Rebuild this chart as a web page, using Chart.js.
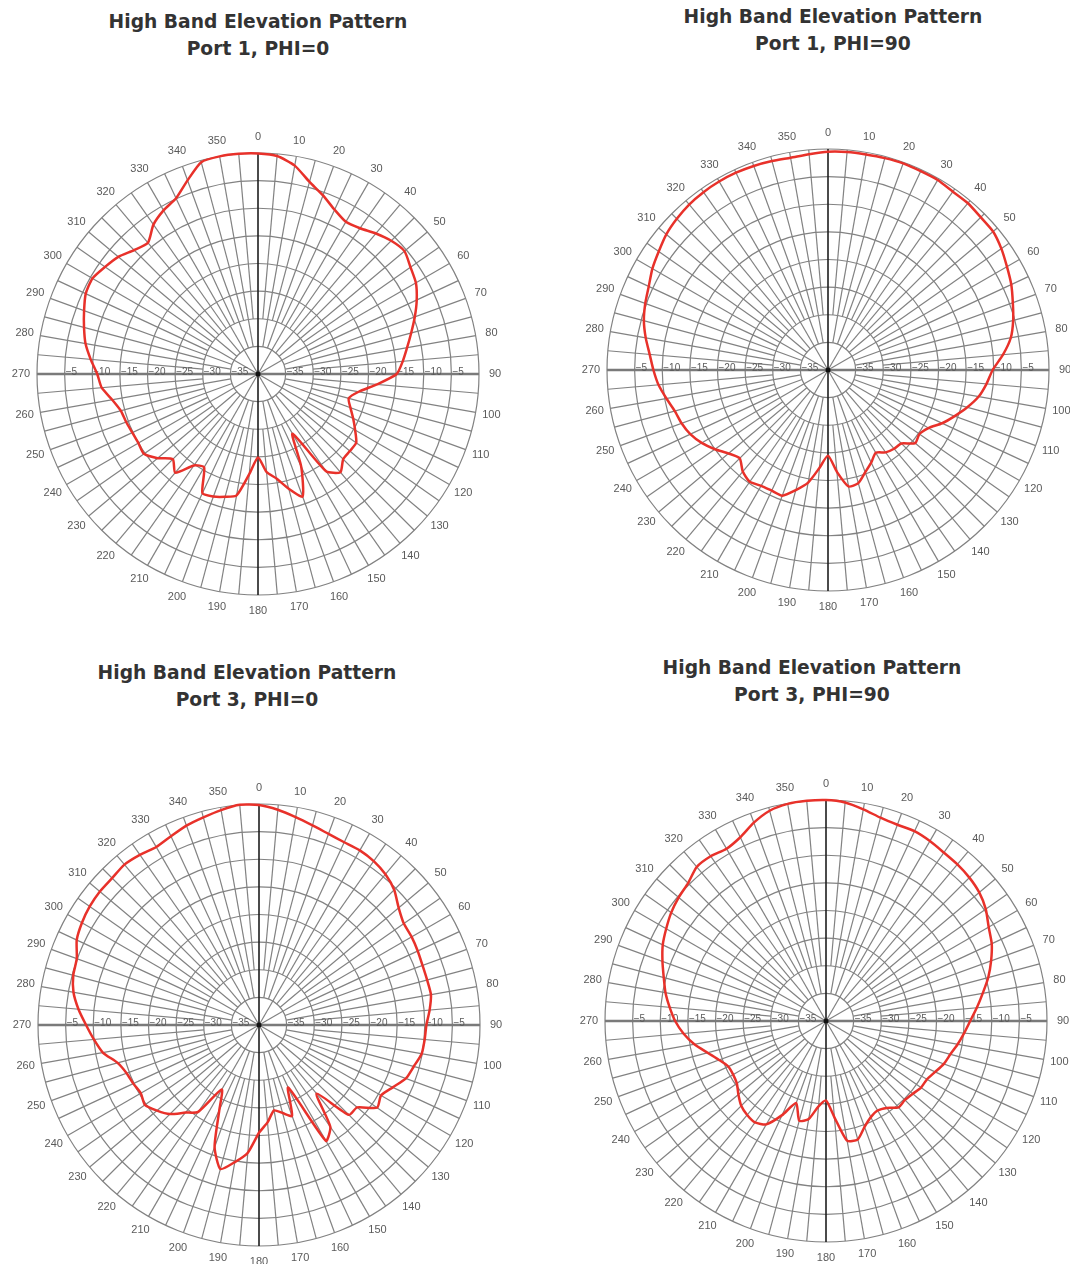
<!DOCTYPE html>
<html>
<head>
<meta charset="utf-8">
<title>High Band Elevation Pattern</title>
<script src="https://cdn.jsdelivr.net/npm/chart.js@4.4.0/dist/chart.umd.min.js"></script>
<style>
  html, body { margin: 0; padding: 0; background: #fff; }
  #page { position: relative; width: 1070px; height: 1264px; overflow: hidden; }
  .title {
    position: absolute; width: 420px; text-align: center; white-space: nowrap;
    font-family: "DejaVu Sans", Verdana, sans-serif; font-weight: bold;
    font-size: 18.7px; line-height: 26.5px; color: #333;
  }
  canvas { position: absolute; }
</style>
</head>
<body>
<div id="page">
  <div class="title" style="left:48px; top:9px">High Band Elevation Pattern<br>Port 1, PHI=0</div>
  <div class="title" style="left:623px; top:4px">High Band Elevation Pattern<br>Port 1, PHI=90</div>
  <div class="title" style="left:37px; top:660px">High Band Elevation Pattern<br>Port 3, PHI=0</div>
  <div class="title" style="left:602px; top:655px">High Band Elevation Pattern<br>Port 3, PHI=90</div>

  <canvas id="p1phi0" width="520" height="520" style="left:-2px; top:114px"></canvas>
  <canvas id="p1phi90" width="520" height="520" style="left:568px; top:110px"></canvas>
  <canvas id="p3phi0" width="520" height="520" style="left:-1px; top:765px"></canvas>
  <canvas id="p3phi90" width="520" height="520" style="left:566px; top:761px"></canvas>
</div>

<script>
// angle of each sample, degrees clockwise from the top
var angles = [0, 5, 10, 15, 20, 25, 30, 35, 40, 45, 50, 55, 60, 65, 70, 75, 80, 85,
  90, 95, 100, 105, 110, 115, 120, 125, 130, 135, 140, 145, 150, 155, 160, 165, 170, 175,
  180, 185, 190, 195, 200, 205, 210, 215, 220, 225, 230, 235, 240, 245, 250, 255, 260, 265,
  270, 275, 280, 285, 290, 295, 300, 305, 310, 315, 320, 325, 330, 335, 340, 345, 350, 355];

// degree labels round the rim and dB labels along the 90/270 axis
var degreeLabels = [0, 10, 20, 30, 40, 50, 60, 70, 80, 90, 100, 110, 120, 130, 140, 150, 160, 170,
  180, 190, 200, 210, 220, 230, 240, 250, 260, 270, 280, 290, 300, 310, 320, 330, 340, 350];
var dbLabels = [-35, -30, -25, -20, -15, -10, -5];

// gain in dB
var port1Phi0 = [-0.1, -0.4, -1.7, -4.0, -5.6, -7.2, -8.2, -7.8, -6.8, -5.9,
  -5.4, -6.3, -7.0, -8.3, -9.8, -11.3, -12.6, -13.7, -14.9, -18.4,
  -21.5, -23.0, -22.2, -21.0, -19.7, -18.3, -18.3, -18.2, -16.8, -18.5,
  -27.5, -21.5, -16.4, -18.5, -20.8, -22.2, -24.9, -21.8, -17.7, -17.0,
  -16.4, -16.2, -20.5, -19.8, -16.7, -18.2, -16.3, -14.8, -15.0, -14.9,
  -14.6, -14.3, -13.2, -11.6, -10.9, -9.6, -8.3, -7.4, -6.5, -5.6,
  -5.4, -6.2, -7.0, -8.3, -9.0, -7.0, -5.8, -4.9, -2.7, -0.3,
  0, 0];

var port1Phi90 = [-0.5, -0.4, -0.4, -0.3, -0.2, -0.3, -0.3, -0.6, -0.6, -0.9,
  -1.0, -1.7, -2.6, -3.4, -4.4, -5.3, -6.4, -8.2, -10.2, -11.2,
  -12.3, -13.9, -15.6, -17.2, -19.0, -19.8, -19.4, -21.2, -21.4, -21.8,
  -22.7, -21.5, -20.3, -18.8, -18.6, -21.5, -24.5, -22.2, -19.3, -17.5,
  -15.8, -15.9, -15.8, -15.3, -16.0, -17.4, -16.5, -15.0, -13.6, -12.5,
  -11.8, -11.3, -10.3, -9.2, -8.4, -7.6, -6.5, -5.5, -4.8, -4.2,
  -3.3, -2.6, -1.8, -1.3, -0.9, -0.7, -0.6, -0.6, -0.7, -0.85,
  -1.0, -0.8];

var port3Phi0 = [-0.2, -0.9, -1.8, -2.6, -3.2, -3.5, -3.5, -3.8, -4.4, -5.4,
  -7.0, -8.0, -8.1, -8.3, -8.5, -8.5, -8.4, -9.0, -9.7, -9.9,
  -10.1, -11.0, -11.7, -13.3, -14.5, -13.9, -16.8, -17.0, -23.8, -17.5,
  -15.8, -27.5, -22.5, -23.5, -24.3, -22.3, -20.5, -16.8, -14.8, -13.0,
  -16.5, -23.0, -26.5, -20.8, -19.3, -17.2, -15.9, -14.8, -15.3, -14.9,
  -14.5, -13.5, -11.3, -10.0, -8.7, -7.2, -5.9, -5.2, -4.9, -3.6,
  -3.0, -2.6, -2.4, -2.4, -2.1, -2.4, -2.8, -2.3, -1.6, -1.1,
  -0.5, 0];

var port3Phi90 = [0, -0.3, -1.1, -1.9, -2.2, -2.1, -2.4, -2.8, -3.0, -3.3,
  -3.8, -4.7, -6.0, -6.9, -8.2, -9.6, -11.2, -12.6, -13.9, -14.9,
  -15.8, -16.7, -17.3, -18.2, -18.9, -19.0, -19.5, -19.8, -19.6, -20.8,
  -21.3, -20.8, -19.6, -17.8, -18.0, -22.5, -25.6, -24.5, -22.0, -21.3,
  -24.2, -21.2, -18.4, -17.6, -17.8, -18.3, -19.3, -20.3, -20.6, -20.5,
  -19.4, -17.8, -15.8, -14.1, -12.7, -11.6, -10.5, -9.6, -8.5, -7.4,
  -6.6, -5.8, -5.2, -4.7, -3.6, -3.6, -4.0, -3.3, -1.8, -0.6,
  -0.1, 0];

var gridGray = '#828282';
var labelGray = '#5a5a5a';

// shorter spokes, centre dot and the text labels, drawn under the trace
var polarDecor = {
  id: 'polarDecor',
  beforeDatasetsDraw: function(chart) {
    var r = chart.scales.r;
    var ctx = chart.ctx;
    var xc = r.xCenter, yc = r.yCenter;
    ctx.save();

    // 10 degree spokes start at the -35 ring, 5 degree ones at -30
    ctx.strokeStyle = gridGray;
    ctx.lineWidth = 1.2;
    angles.forEach(function(a, i) {
      if (a % 30 === 0) return;
      var from = r.getPointPositionForValue(i, a % 10 === 0 ? -35 : -30);
      var to = r.getPointPositionForValue(i, 0);
      ctx.beginPath();
      ctx.moveTo(from.x, from.y);
      ctx.lineTo(to.x, to.y);
      ctx.stroke();
    });

    ctx.fillStyle = '#111';
    ctx.beginPath();
    ctx.arc(xc, yc, 2.5, 0, Math.PI * 2);
    ctx.fill();

    ctx.fillStyle = labelGray;
    ctx.font = '10px "Liberation Sans", Arial, sans-serif';
    ctx.textAlign = 'left';
    ctx.textBaseline = 'alphabetic';
    dbLabels.forEach(function(v) {
      var d = r.getDistanceFromCenterForValue(v);
      var txt = '\u2212' + Math.abs(v);
      ctx.fillText(txt, xc - d + 1, yc + 0.5);
      ctx.fillText(txt, xc + d + 1, yc + 0.5);
    });

    ctx.font = '11px "Liberation Sans", Arial, sans-serif';
    ctx.textAlign = 'center';
    ctx.textBaseline = 'middle';
    degreeLabels.forEach(function(a) {
      var p = r.getPointPosition(angles.indexOf(a), r.drawingArea + 16);
      ctx.fillText(String(a), p.x, p.y);
    });
    ctx.restore();
  }
};

function makeChart(id, values) {
  return new Chart(document.getElementById(id), {
    type: 'radar',
    data: {
      labels: angles,
      datasets: [{
        data: values,
        borderColor: '#e8312a',
        borderWidth: 2.5,
        pointRadius: 0,
        fill: false,
        tension: 0.2
      }]
    },
    options: {
      responsive: false,
      animation: false,
      layout: { padding: 39 },
      plugins: {
        legend: { display: false },
        tooltip: { enabled: false }
      },
      scales: {
        r: {
          min: -40,
          max: 0,
          ticks: { display: false, stepSize: 5 },
          pointLabels: { display: false },
          grid: { circular: true, color: gridGray, lineWidth: 1.2 },
          angleLines: {
            color: function(c) {
              var a = angles[c.index];
              if (a % 180 === 0) return '#1e1e1e';
              if (a % 90 === 0) return '#7a7a7a';
              return gridGray;
            },
            lineWidth: function(c) {
              var a = angles[c.index];
              if (a % 180 === 0) return 1.6;
              if (a % 90 === 0) return 2.4;
              return a % 30 === 0 ? 1.2 : 0;
            }
          }
        }
      }
    },
    plugins: [polarDecor]
  });
}

makeChart('p1phi0', port1Phi0);
makeChart('p1phi90', port1Phi90);
makeChart('p3phi0', port3Phi0);
makeChart('p3phi90', port3Phi90);
</script>
</body>
</html>
